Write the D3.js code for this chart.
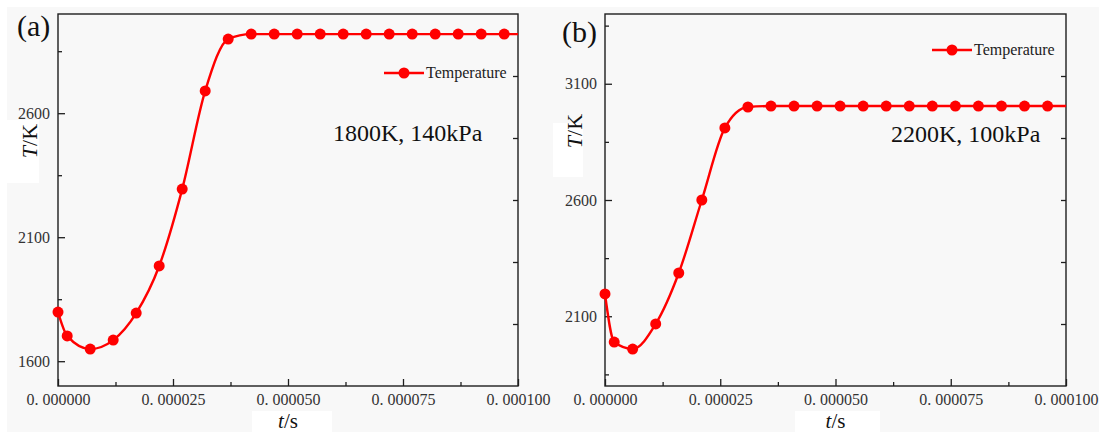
<!DOCTYPE html>
<html>
<head>
<meta charset="utf-8">
<script src="https://cdn.jsdelivr.net/npm/d3@7/dist/d3.min.js"></script>
<style>
  html, body { margin: 0; padding: 0; background: #ffffff; }
  svg { display: block; }
</style>
</head>
<body>
<svg id="fig" width="1099" height="432"></svg>
<script>
// Time stamps (microseconds) of the plotted markers and temperatures (K)
const timesA = [0, 2, 7, 12, 17, 22, 27, 32, 37, 42, 47, 52, 57, 62, 67, 72, 77, 82, 87, 92, 97];
const tempsA = [1798, 1702, 1649, 1685, 1794, 1984, 2294, 2690, 2899, 2919, 2919, 2919, 2919, 2919, 2919, 2919, 2919, 2919, 2919, 2919, 2919];
const endA = { t: 100, T: 2919 };

const timesB = [0, 2, 6, 11, 16, 21, 26, 31, 36, 41, 46, 51, 56, 61, 66, 71, 76, 81, 86, 91, 96];
const tempsB = [2196, 1989, 1959, 2067, 2286, 2600, 2910, 3000, 3004, 3004, 3004, 3004, 3004, 3004, 3004, 3004, 3004, 3004, 3004, 3004, 3004];
const endB = { t: 100, T: 3004 };

// Axis ticks
const xMajorTicks = [0, 0.000025, 0.00005, 0.000075, 0.0001];
const xMinorTicks = [0.0000125, 0.0000375, 0.0000625, 0.0000875];
const yMajorTicksA = [1600, 2100, 2600];
const yMinorTicksA = [1850, 2350, 2850];
const yMajorTicksB = [2100, 2600, 3100];
const yMinorTicksB = [1850, 2350, 2850, 3350];

const seriesName = "Temperature";
const conditions = ["1800K, 140kPa", "2200K, 100kPa"];
const panelTags = ["(a)", "(b)"];

const svg = d3.select("#fig");
const RED = "#ff0000";
const INK = "#1e1e1e";
const SERIF = "'Liberation Serif', 'Times New Roman', serif";

// sheet backdrop
svg.append("rect").attr("x", 7).attr("y", 7).attr("width", 1092).attr("height", 425).attr("fill", "#f8f8f8");

const panels = [
  { times: timesA, temps: tempsA, end: endA, yDomain: [1500, 3000], yMajor: yMajorTicksA, yMinor: yMinorTicksA,
    left: 58, right: 518, top: 14, bottom: 386, tag: panelTags[0], tagX: 17, tagY: 36,
    cond: conditions[0], condX: 333, condY: 141,
    legX: 384, legY: 73,
    yLabX: 37, yLabY: 141, yPatch: [7, 120, 32, 63], xPatch: [252, 411, 80, 21] },
  { times: timesB, temps: tempsB, end: endB, yDomain: [1800, 3400], yMajor: yMajorTicksB, yMinor: yMinorTicksB,
    left: 605, right: 1066, top: 14, bottom: 386, tag: panelTags[1], tagX: 562, tagY: 42,
    cond: conditions[1], condX: 891, condY: 142,
    legX: 932, legY: 50,
    yLabX: 582, yLabY: 131, yPatch: [553, 123, 30, 54], xPatch: [795, 411, 85, 21] }
];

panels.forEach(p => {
  const x = d3.scaleLinear().domain([0, 0.0001]).range([p.left, p.right]);
  const y = d3.scaleLinear().domain(p.yDomain).range([p.bottom, p.top]);
  const g = svg.append("g");

  // white label patches
  g.append("rect").attr("x", p.yPatch[0]).attr("y", p.yPatch[1]).attr("width", p.yPatch[2]).attr("height", p.yPatch[3]).attr("fill", "#ffffff");
  g.append("rect").attr("x", p.xPatch[0]).attr("y", p.xPatch[1]).attr("width", p.xPatch[2]).attr("height", p.xPatch[3]).attr("fill", "#ffffff");

  const styleAxis = sel => {
    sel.select(".domain").remove();
    sel.selectAll(".tick line").attr("stroke", INK).attr("stroke-width", 1.3);
    sel.selectAll(".tick text").attr("fill", "#333").attr("font-family", SERIF).attr("font-size", 16);
  };

  // bottom axis (ticks pointing inward)
  g.append("g").attr("transform", `translate(0,${p.bottom})`)
    .call(d3.axisBottom(x).tickValues(xMajorTicks).tickSizeInner(-7).tickSizeOuter(0).tickPadding(8)
      .tickFormat(d => d3.format(".6f")(d).replace(".", ". ")))
    .call(styleAxis);
  g.append("g").attr("transform", `translate(0,${p.bottom})`)
    .call(d3.axisBottom(x).tickValues(xMinorTicks).tickSizeInner(-4).tickSizeOuter(0).tickFormat(""))
    .call(styleAxis);

  // left axis
  g.append("g").attr("transform", `translate(${p.left},0)`)
    .call(d3.axisLeft(y).tickValues(p.yMajor).tickSizeInner(-7).tickSizeOuter(0).tickPadding(8).tickFormat(d3.format("d")))
    .call(styleAxis);
  g.append("g").attr("transform", `translate(${p.left},0)`)
    .call(d3.axisLeft(y).tickValues(p.yMinor).tickSizeInner(-4).tickSizeOuter(0).tickFormat(""))
    .call(styleAxis);

  // mirrored right axis: six equal divisions, unlabelled
  const [y0, y1] = p.yDomain;
  const rightTicks = d3.range(1, 6).map(i => y0 + i * (y1 - y0) / 6);
  g.append("g").attr("transform", `translate(${p.right},0)`)
    .call(d3.axisLeft(y).tickValues(rightTicks).tickSizeInner(5).tickSizeOuter(0).tickFormat(""))
    .call(styleAxis);

  // frame
  g.append("rect").attr("x", p.left).attr("y", p.top)
    .attr("width", p.right - p.left).attr("height", p.bottom - p.top)
    .attr("fill", "none").attr("stroke", INK).attr("stroke-width", 1.4);

  // data
  const pts = p.times.map((t, i) => ({ t: t * 1e-6, T: p.temps[i] }));
  const linePts = pts.concat([{ t: p.end.t * 1e-6, T: p.end.T }]);
  const line = d3.line().x(d => x(d.t)).y(d => y(d.T)).curve(d3.curveMonotoneX);
  g.append("path").datum(linePts).attr("d", line)
    .attr("fill", "none").attr("stroke", RED).attr("stroke-width", 2.4);
  g.selectAll("circle.pt").data(pts).join("circle").attr("class", "pt")
    .attr("cx", d => x(d.t)).attr("cy", d => y(d.T)).attr("r", 5.5).attr("fill", RED);

  // legend
  g.append("line").attr("x1", p.legX).attr("x2", p.legX + 40).attr("y1", p.legY).attr("y2", p.legY)
    .attr("stroke", RED).attr("stroke-width", 2.4);
  g.append("circle").attr("cx", p.legX + 20).attr("cy", p.legY).attr("r", 5.5).attr("fill", RED);
  g.append("text").attr("x", p.legX + 42).attr("y", p.legY + 5)
    .attr("font-family", SERIF).attr("font-size", 16).attr("fill", "#222").text(seriesName);

  // condition annotation
  g.append("text").attr("x", p.condX).attr("y", p.condY)
    .attr("font-family", SERIF).attr("font-size", 24).attr("fill", "#111").text(p.cond);

  // panel tag
  g.append("text").attr("x", p.tagX).attr("y", p.tagY)
    .attr("font-family", SERIF).attr("font-size", 30).attr("fill", "#111").text(p.tag);

  // axis titles
  const yt = g.append("text").attr("transform", `translate(${p.yLabX},${p.yLabY}) rotate(-90)`)
    .attr("text-anchor", "middle").attr("font-family", SERIF).attr("font-size", 22).attr("fill", "#111");
  yt.append("tspan").attr("font-style", "italic").text("T");
  yt.append("tspan").text("/K");

  const xt = g.append("text").attr("x", (p.left + p.right) / 2).attr("y", 428)
    .attr("text-anchor", "middle").attr("font-family", SERIF).attr("font-size", 21).attr("fill", "#111");
  xt.append("tspan").attr("font-style", "italic").text("t");
  xt.append("tspan").text("/s");
});
</script>
</body>
</html>
